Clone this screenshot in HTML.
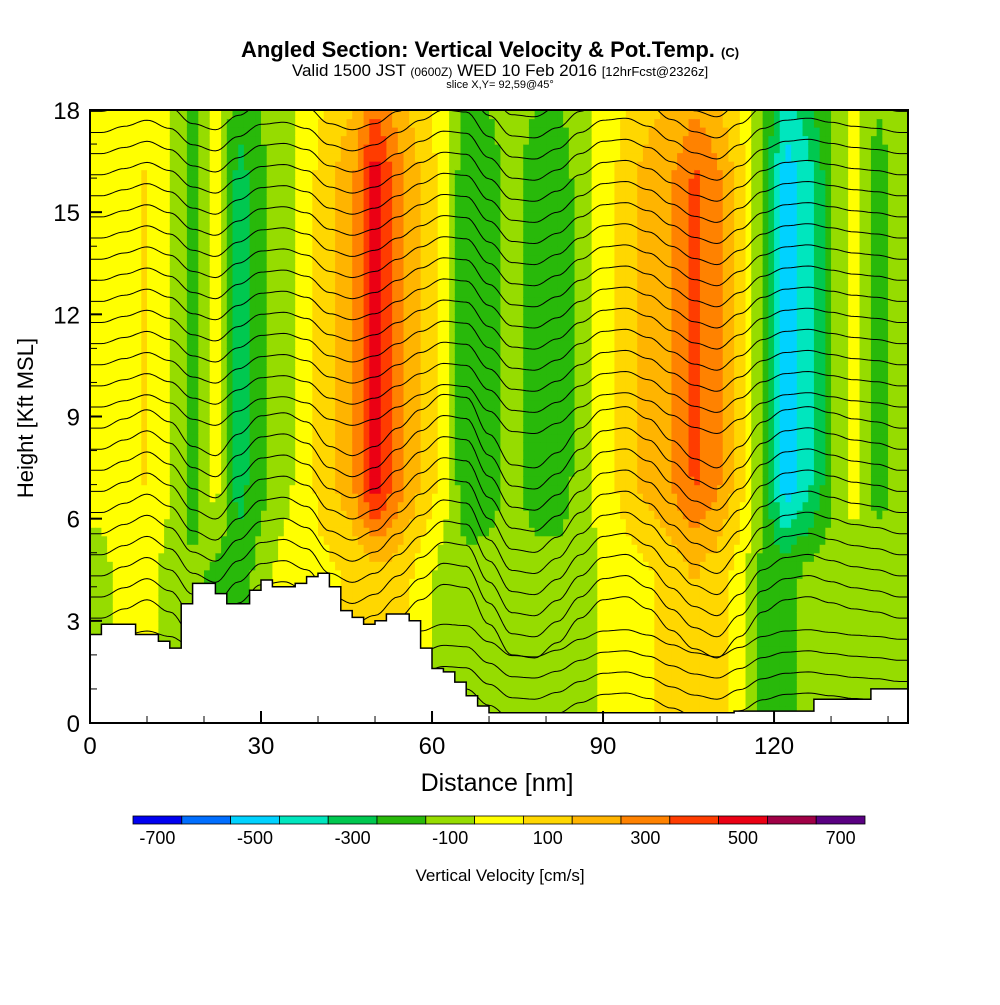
<!DOCTYPE html>
<html><head><meta charset="utf-8">
<style>
html,body{margin:0;padding:0;background:#fff;}
body{width:1000px;height:1000px;overflow:hidden;font-family:"Liberation Sans",sans-serif;}
svg text{font-family:"Liberation Sans",sans-serif;}
</style></head>
<body>
<svg id="chart" width="1000" height="1000" viewBox="0 0 1000 1000">
  <text x="490" y="57" text-anchor="middle" font-size="22" font-weight="bold">Angled Section: Vertical Velocity &amp; Pot.Temp. <tspan font-size="13">(C)</tspan></text>
  <text x="500" y="76" text-anchor="middle" font-size="17">Valid 1500 JST <tspan font-size="12">(0600Z)</tspan> WED 10 Feb 2016 <tspan font-size="13">[12hrFcst@2326z]</tspan></text>
  <text x="500" y="88" text-anchor="middle" font-size="11">slice X,Y= 92,59@45°</text>
  <defs><clipPath id="plotclip"><rect x="90" y="110" width="818" height="613"/></clipPath></defs>
  <g id="field" clip-path="url(#plotclip)"></g>
  <g id="contours" clip-path="url(#plotclip)"></g>
  <g id="terrain" clip-path="url(#plotclip)"></g>
  <rect x="90" y="110" width="818" height="613" fill="none" stroke="#000" stroke-width="2"/>
  <g id="axes"></g>
  <text x="497" y="791" text-anchor="middle" font-size="25">Distance [nm]</text>
  <text transform="translate(33,418) rotate(-90)" text-anchor="middle" font-size="22">Height [Kft MSL]</text>
  <g id="colorbar"></g>
  <text x="500" y="881" text-anchor="middle" font-size="17">Vertical Velocity [cm/s]</text>
</svg>
<script>
// ---- data ----
const colCenters = [2,6,10,14,18,22,26,30,34,38,42,46,50,54,58,62,66,70,74,78,82,86,90,94,98,102,106,110,114,118,122,126,130,134,138,142];
const upperVel = [30,50,110,20,-170,60,-250,-130,-40,60,180,280,580,350,200,60,-200,-150,-60,-150,-170,-60,40,150,250,300,420,330,150,-100,-480,-350,-120,60,-150,-60];
const lowerVel = [-30,40,60,-60,-80,-120,-150,-60,50,60,80,120,150,160,60,-50,-60,-60,-60,-60,-60,-40,20,60,80,150,200,150,60,-130,-150,-60,-60,-60,-50,-60];
const displacement = [0,0.3,0.6,0.2,-0.6,-0.9,-0.2,0.4,0.5,0.2,-0.6,-0.9,-0.6,0,0.6,1.1,1.0,-0.2,-1.2,-1.3,-0.8,0,0.6,0.7,0.3,-0.4,-1.0,-1.3,-0.6,0.2,0.6,0.7,0.5,0.3,0.2,0];
const terrainX = [0,2,4,6,8,10,12,14,16,18,20,22,24,26,28,30,32,34,36,38,40,42,44,46,48,50,52,54,56,58,60,62,64,66,68,70,72,113,127,137];
const terrainH = [2.6,2.9,2.9,2.9,2.6,2.6,2.4,2.2,3.5,4.1,4.1,3.8,3.5,3.5,3.9,4.2,4.0,4.0,4.1,4.3,4.4,4.0,3.3,3.1,2.9,3.0,3.2,3.2,3.0,2.2,1.6,1.5,1.2,0.8,0.5,0.3,0.3,0.35,0.7,1.0];
const levels = [-700,-600,-500,-400,-300,-200,-100,0,100,200,300,400,500,600,700,800];
const levelColors = ["#0000f0","#006eff","#00d2ff","#00e6be","#00c850","#28b90a","#96dc00","#ffff00","#ffd700","#ffb400","#ff8200","#ff3c00","#eb0014","#a00046","#5a0082"];
const cbLabels = [-700,-500,-300,-100,100,300,500,700];
const xTicks = [0,30,60,90,120];
const yTicks = [0,3,6,9,12,15,18];
const thetaBase = [];
for (let i=0;i<30;i++) thetaBase.push(0.6+i*0.62);

// ---- scales ----
const X0=90,X1=908,Y0=723,Y1=110, XMAX=143.5, YMAX=18;
const sx = nm => X0 + (X1-X0)*nm/XMAX;
const sy = h => Y0 - (Y0-Y1)*h/YMAX;
const NS="http://www.w3.org/2000/svg";
function mk(tag, attrs, parent){const e=document.createElementNS(NS,tag);for(const k in attrs)e.setAttribute(k,attrs[k]);parent.appendChild(e);return e;}
function interp(arr, nm, smooth){
  if (nm<=colCenters[0]) return arr[0];
  for(let i=0;i<colCenters.length-1;i++){
    if(nm<=colCenters[i+1]){let t=(nm-colCenters[i])/(colCenters[i+1]-colCenters[i]); if(smooth) t=(1-Math.cos(Math.PI*t))/2; return arr[i]+(arr[i+1]-arr[i])*t;}
  }
  return arr[arr.length-1];
}
function vel(nm,h){
  const u=interp(upperVel,nm), l=interp(lowerVel,nm);
  let t=Math.min(1,Math.max(0,(h-4)/3.5));
  t=t*t*(3-2*t);
  let v=l+(u-l)*t;
  if(h>16) v=v*(1-0.3*(h-16)/2);
  return v;
}
function colorFor(v){
  for(let i=0;i<levels.length-1;i++){ if(v<levels[i+1]) return levelColors[i]; }
  return levelColors[levelColors.length-1];
}

// ---- field ----
const field=document.getElementById('field');
const dnm=1, dh=0.25;
for(let nm=0;nm<XMAX;nm+=dnm){
  for(let h=0;h<YMAX;h+=dh){
    const r=mk('rect',{x:sx(nm).toFixed(2),y:sy(h+dh).toFixed(2),width:(sx(nm+dnm)-sx(nm)+0.6).toFixed(2),height:(sy(h)-sy(h+dh)+0.6).toFixed(2),fill:colorFor(vel(nm+dnm/2,h+dh/2))},field);
    
    
  }
}

// ---- contours ----
const cont=document.getElementById('contours');
thetaBase.forEach((b,i)=>{
  const amp = b<3?0.4:(b<9?0.9:0.6);
  let d='';
  for(let nm=0;nm<=XMAX+1;nm+=0.5){
    const h=b+interp(displacement,nm,true)*amp;
    d+=(nm===0?'M':'L')+sx(nm).toFixed(1)+','+sy(h).toFixed(1);
  }
  const p=mk('path',{d:d,fill:'none',stroke:'#000','stroke-width':1},cont);
  
  
});

// ---- terrain ----
const ter=document.getElementById('terrain');
let td='M'+sx(0)+','+sy(0);
for(let i=0;i<terrainX.length;i++){
  const xa=terrainX[i], xb=(i<terrainX.length-1)?terrainX[i+1]:XMAX+1;
  td+='L'+sx(xa).toFixed(1)+','+sy(terrainH[i]).toFixed(1)+'L'+sx(xb).toFixed(1)+','+sy(terrainH[i]).toFixed(1);
}
td+='L'+sx(XMAX+1)+','+sy(0)+'Z';
const tp=mk('path',{d:td,fill:'#fff',stroke:'#000','stroke-width':1.5},ter);



// ---- axes ----
const ax=document.getElementById('axes');
xTicks.forEach(v=>{
  const l=mk('line',{x1:sx(v),x2:sx(v),y1:Y0,y2:Y0-12,stroke:'#000','stroke-width':2},ax);
  
  
  const t=mk('text',{x:sx(v),y:754,'text-anchor':'middle','font-size':24},ax);
  t.textContent=v;
  
  
});
for(let v=10;v<XMAX;v+=10){ if(v%30===0) continue;
  const l=mk('line',{x1:sx(v),x2:sx(v),y1:Y0,y2:Y0-7,stroke:'#000','stroke-width':1},ax);
  
  
}
yTicks.forEach(v=>{
  const l=mk('line',{x1:X0,x2:X0+12,y1:sy(v),y2:sy(v),stroke:'#000','stroke-width':2},ax);
  
  
  const t=mk('text',{x:80,y:sy(v)+9,'text-anchor':'end','font-size':24},ax);
  t.textContent=v;
  
  
});
for(let v=1;v<YMAX;v++){ if(v%3===0) continue;
  const l=mk('line',{x1:X0,x2:X0+7,y1:sy(v),y2:sy(v),stroke:'#000','stroke-width':1},ax);
  
  
}

// ---- colorbar ----
const cb=document.getElementById('colorbar');
const CB0=133,CB1=865,CBY=816,CBH=8;
const bw=(CB1-CB0)/levelColors.length;
levelColors.forEach((c,i)=>{
  const r=mk('rect',{x:CB0+i*bw,y:CBY,width:bw,height:CBH,fill:c,stroke:'#000','stroke-width':0.8},cb);
  
  
});
cbLabels.forEach(v=>{
  const i=levels.indexOf(v);
  const t=mk('text',{x:CB0+i*bw+bw/2,y:844,'text-anchor':'middle','font-size':18},cb);
  t.textContent=v;
  
  
});
</script>
</body></html>
